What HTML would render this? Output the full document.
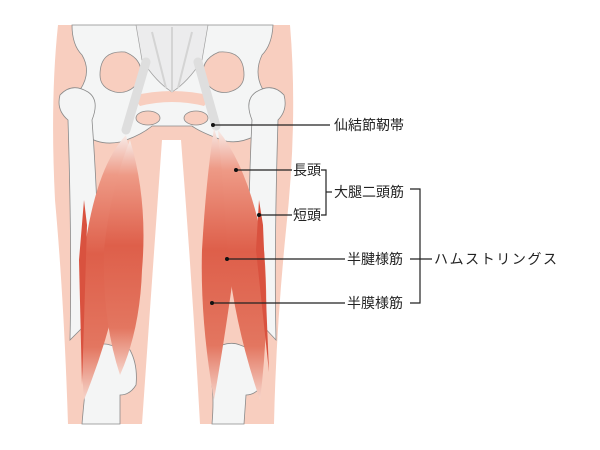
<!DOCTYPE html>
<html><head><meta charset="utf-8"><style>
html,body{margin:0;padding:0;background:#fff;}
svg{display:block;}
text{font-family:"Liberation Sans","Noto Sans CJK JP",sans-serif;font-size:14px;fill:#222;}
</style></head><body>
<svg width="600" height="450" viewBox="0 0 600 450" xmlns="http://www.w3.org/2000/svg">
<defs>
<linearGradient id="mg" x1="0" y1="0" x2="0" y2="1">
<stop offset="0" stop-color="#f8ece8"/>
<stop offset="0.15" stop-color="#ee9a86"/>
<stop offset="0.45" stop-color="#de5f4a"/>
<stop offset="0.8" stop-color="#e37660"/>
<stop offset="1" stop-color="#f6d6cc"/>
</linearGradient>
</defs>
<path d="M58 25 L290 25 Q298 120 286 230 Q276 330 274 424 L200 424 Q192 280 181 140 L162 140 Q152 280 142 424 L68 424 Q64 300 55 200 Q50 100 58 25Z" fill="#f8cebf"/>
<path d="M72 25 L273 25 Q272 45 262 55 Q254 72 262 88 Q278 98 276 112 L262 132 Q240 146 222 140 Q200 132 192 126 L152 126 Q140 136 120 142 Q100 146 85 135 L70 115 Q66 100 80 90 Q92 72 82 55 Q72 45 72 25Z" fill="#f4f5f5" stroke="#8a8a8a" stroke-width="0.8"/>
<path d="M100 75 Q100 50 125 52 Q145 60 140 80 Q130 95 115 92 Q100 88 100 75Z" fill="#f8cebf" stroke="#8a8a8a" stroke-width="0.8"/>
<path d="M244 75 Q244 50 219 52 Q199 60 204 80 Q214 95 229 92 Q244 88 244 75Z" fill="#f8cebf" stroke="#8a8a8a" stroke-width="0.8"/>
<ellipse cx="148" cy="118" rx="12" ry="7" fill="#f8cebf" stroke="#8a8a8a" stroke-width="0.8"/>
<ellipse cx="196" cy="118" rx="12" ry="7" fill="#f8cebf" stroke="#8a8a8a" stroke-width="0.8"/>
<path d="M132 96 Q172 86 212 96 L204 106 Q172 98 140 106Z" fill="#f8cebf"/>
<path d="M136 25 L208 25 L202 60 Q188 82 172 92 Q156 82 142 60Z" fill="#ececed" stroke="#a0a0a0" stroke-width="0.7"/>
<path d="M152 32 L166 88 M192 32 L178 88 M172 27 L172 92" stroke="#d4d4d4" stroke-width="2"/>
<path d="M146 62 L126 130 M198 62 L216 126" stroke="#dedede" stroke-width="9" stroke-linecap="round"/>
<path d="M60 95 Q72 82 88 92 Q100 100 92 120 Q98 200 100 310 L70 340 Q72 250 68 120 Q56 110 60 95Z" fill="#f4f5f5" stroke="#8a8a8a" stroke-width="0.8"/>
<path d="M284 95 Q272 82 256 92 Q244 100 252 120 Q248 200 248 310 L276 340 Q274 250 278 120 Q288 110 284 95Z" fill="#f4f5f5" stroke="#8a8a8a" stroke-width="0.8"/>
<path d="M86 360 Q96 340 110 345 L130 350 Q138 365 136 385 Q130 395 120 395 L120 424 L82 424 Q84 400 86 385Z" fill="#f4f5f5" stroke="#8a8a8a" stroke-width="0.8"/>
<path d="M212 350 Q228 340 240 345 L258 352 Q262 370 260 388 Q254 395 246 395 L244 424 L212 424 Q214 400 212 385Z" fill="#f4f5f5" stroke="#8a8a8a" stroke-width="0.8"/>
<path d="M126 135 Q98 165 86 240 Q78 320 84 400 Q104 350 116 300 Q134 240 134 170Z" fill="url(#mg)"/>
<path d="M130 140 Q148 200 142 270 Q140 330 120 375 Q102 320 104 250 Q110 190 130 140Z" fill="url(#mg)"/>
<path d="M84 200 L87 225 L82 385 L79 260Z" fill="#d9523f"/>
<path d="M214 128 Q206 180 202 250 Q200 320 214 400 Q226 330 234 270 Q236 200 214 128Z" fill="url(#mg)"/>
<path d="M218 130 Q250 170 264 250 Q270 320 260 400 Q236 330 228 260 Q224 190 218 130Z" fill="url(#mg)"/>
<path d="M259 200 L263 225 L269 372 L256 250Z" fill="#d9523f"/>
<g stroke="#222" stroke-width="1.2" fill="none">
<line x1="213" y1="125" x2="330" y2="125"/>
<line x1="236" y1="170" x2="292" y2="170"/>
<line x1="259" y1="215" x2="292" y2="215"/>
<path d="M321 170 H326 V215 H321"/>
<line x1="326" y1="192" x2="332" y2="192"/>
<line x1="227" y1="259" x2="345" y2="259"/>
<line x1="212" y1="303" x2="345" y2="303"/>
<path d="M410 189 H420 V303 H410"/>
<line x1="410" y1="259" x2="432" y2="259"/>
</g>
<g fill="#111">
<circle cx="213" cy="125" r="2"/><circle cx="236" cy="170" r="2"/><circle cx="259" cy="215" r="2"/>
<circle cx="227" cy="259" r="2"/><circle cx="212" cy="303" r="2"/>
</g>
<text x="334" y="130">仙結節靭帯</text>
<text x="293" y="175">長頭</text>
<text x="293" y="220">短頭</text>
<text x="334" y="197">大腿二頭筋</text>
<text x="347" y="264">半腱様筋</text>
<text x="347" y="308">半膜様筋</text>
<text x="434" y="264" textLength="123">ハムストリングス</text>
</svg>
</body></html>
